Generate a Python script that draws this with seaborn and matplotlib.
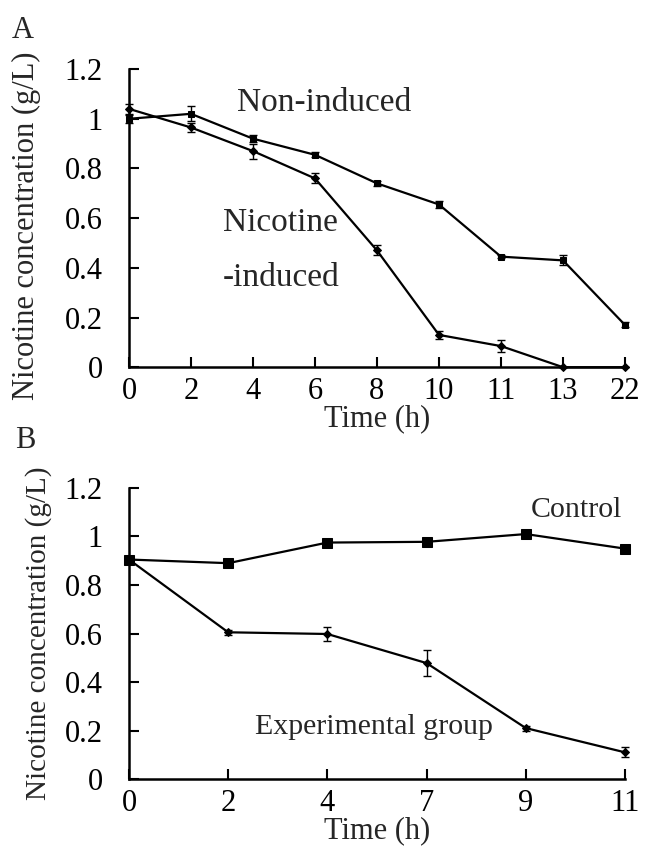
import matplotlib
matplotlib.use("Agg")
import matplotlib.pyplot as plt
import seaborn as sns
import numpy as np
import pandas as pd

# panel A
time_a = ["0", "2", "4", "6", "8", "10", "11", "13", "22"]
non_induced = [1.00, 1.02, 0.92, 0.855, 0.74, 0.655, 0.445, 0.43, 0.17]
non_induced_err = [0.015, 0.03, 0.015, 0.01, 0.01, 0.015, 0.005, 0.02, 0.01]
nic_induced = [1.04, 0.965, 0.87, 0.76, 0.47, 0.13, 0.085, 0.0, 0.0]
nic_induced_err = [0.02, 0.02, 0.03, 0.02, 0.02, 0.015, 0.025, 0.0, 0.0]

# panel B
time_b = ["0", "2", "4", "7", "9", "11"]
control = [0.905, 0.89, 0.975, 0.978, 1.01, 0.95]
control_err = [0.01, 0.01, 0.01, 0.01, 0.01, 0.01]
experimental = [0.905, 0.605, 0.598, 0.478, 0.21, 0.11]
experimental_err = [0.01, 0.01, 0.03, 0.055, 0.01, 0.02]

sns.set_style("ticks")
plt.rcParams["font.family"] = ["Liberation Serif", "DejaVu Serif"]

fig = plt.figure(figsize=(6.48, 8.5), dpi=100)
ax_a = fig.add_axes([0.199, 0.568, 0.7655, 0.3507])
ax_b = fig.add_axes([0.199, 0.0835, 0.7655, 0.3424])


def draw_series(ax, labels, values, errs, marker, ms):
    df = pd.DataFrame({"pos": np.arange(len(labels)), "val": values})
    sns.lineplot(data=df, x="pos", y="val", ax=ax, color="black", lw=1.6,
                 marker=marker, markersize=ms, markeredgecolor="black",
                 clip_on=False, zorder=3)
    ax.errorbar(df["pos"], df["val"], yerr=errs, fmt="none", ecolor="black",
                elinewidth=1.0, capsize=3, capthick=1.0, clip_on=False)


def style_axes(ax, labels, ylabel_size):
    ax.set_xlim(0, len(labels) - 1)
    ax.set_ylim(0, 1.2)
    ax.set_xticks(np.arange(len(labels)))
    ax.set_xticklabels(labels)
    yt = [0, 0.2, 0.4, 0.6, 0.8, 1.0, 1.2]
    ax.set_yticks(yt)
    ax.set_yticklabels(["%g" % v for v in yt])
    ax.tick_params(direction="in", length=7, width=1.5, labelsize=22,
                   colors="black")
    ax.tick_params(axis="y", pad=19)
    ax.tick_params(axis="x", pad=7)
    for s in ["top", "right"]:
        ax.spines[s].set_visible(False)
    for s in ["left", "bottom"]:
        ax.spines[s].set_linewidth(1.8)
        ax.spines[s].set_color("black")
    ax.set_ylabel("Nicotine concentration (g/L)", fontsize=ylabel_size)
    ax.set_xlabel("Time (h)", fontsize=22, labelpad=-1)


draw_series(ax_a, time_a, non_induced, non_induced_err, "s", 5)
draw_series(ax_a, time_a, nic_induced, nic_induced_err, "D", 4)
style_axes(ax_a, time_a, 22)
ax_a.yaxis.set_label_coords(-0.177, 0.475)
ax_a.text(1.74, 1.063, "Non-induced", fontsize=24, va="center", ha="left")
ax_a.text(1.52, 0.582, "Nicotine", fontsize=24, va="center", ha="left")
ax_a.text(1.52, 0.361, "-induced", fontsize=24, va="center", ha="left")

draw_series(ax_b, time_b, control, control_err, "s", 6.5)
draw_series(ax_b, time_b, experimental, experimental_err, "D", 4)
style_axes(ax_b, time_b, 21)
ax_b.yaxis.set_label_coords(-0.155, 0.5)
ax_b.text(4.05, 1.109, "Control", fontsize=21.5, va="center", ha="left")
ax_b.text(1.27, 0.214, "Experimental group", fontsize=21.5, va="center",
          ha="left")

fig.text(12 / 648, 1 - 30 / 850, "A", fontsize=22, va="center", ha="left")
fig.text(15 / 648, 1 - 440 / 850, "B", fontsize=22, va="center", ha="left")

fig.savefig("out.png", dpi=100, facecolor="white")
plt.close(fig)
